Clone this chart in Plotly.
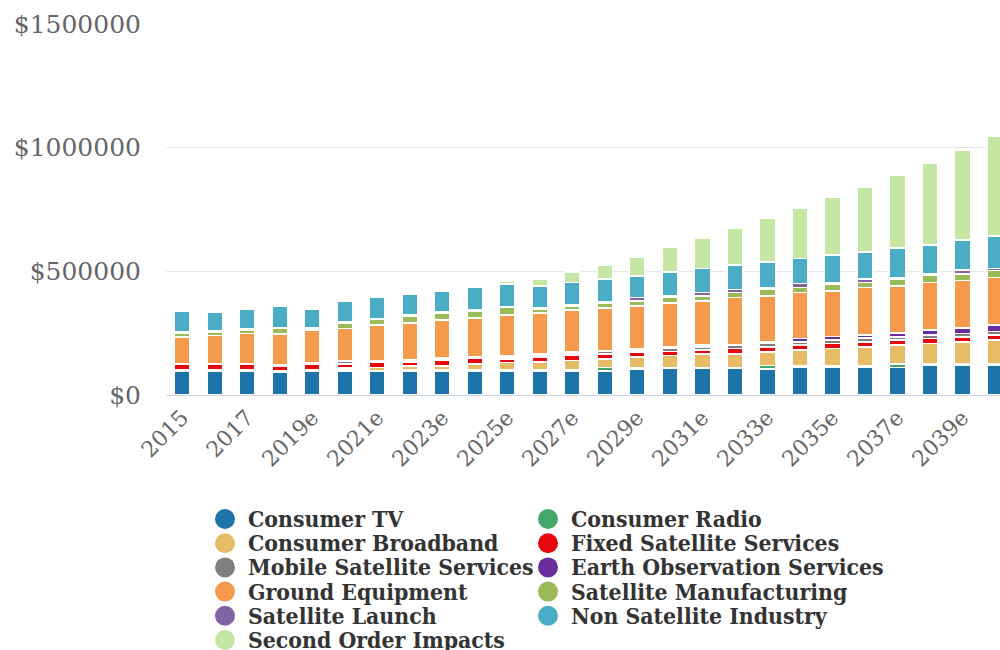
import plotly.graph_objects as go

years = ["2015", "2016", "2017", "2018"] + [f"{y}e" for y in range(2019, 2041)]
tick_labels = years[::2]
y_ticks = [0, 500000, 1000000, 1500000]
y_tick_text = ["$0", "$500000", "$1000000", "$1500000"]

consumer_tv = [98000, 98000, 98000, 90000, 98000, 98000, 98000, 98000, 98000, 98000,
               98000, 98000, 98000, 98000, 104700, 107300, 107300, 107300, 106000, 112600,
               112600, 112600, 111800, 119400, 119400, 119400]
consumer_radio = [2000, 2000, 2000, 3000, 2000, 3000, 2000, 3000, 3000, 3000,
                  5000, 5000, 5000, 13000, 6000, 2500, 3600, 3600, 13300, 6500,
                  5300, 5300, 12900, 5300, 5300, 5300]
consumer_broadband = [2000, 2000, 2000, 7000, 2000, 9000, 11500, 17000, 17000, 24100,
                      28300, 30300, 35800, 33700, 42000, 49900, 54800, 54800, 53800, 62200,
                      69500, 76800, 76800, 83500, 90100, 97000]
fixed_satellite = [22000, 22000, 22000, 16000, 23000, 15500, 20400, 15500, 21000, 22400,
                   14800, 21000, 22200, 21400, 20400, 15600, 15600, 21600, 21600, 20200,
                   20800, 20200, 20200, 20200, 20200, 20800]
mobile_satellite = [1500, 1500, 1500, 5000, 2500, 9000, 5000, 6000, 7000, 4000,
                    8000, 8000, 8000, 9000, 9000, 12900, 13300, 13000, 13700, 13300,
                    14100, 15000, 13300, 14100, 14100, 14100]
earth_observation = [1000, 1000, 1000, 2000, 1000, 4000, 1500, 4000, 5000, 2500,
                     3000, 4000, 4000, 4300, 4300, 6500, 8100, 3000, 5300, 13500,
                     13500, 13300, 15000, 20800, 21000, 26900]
ground_equipment = [109000, 115000, 122000, 124000, 131800, 130000, 144700, 146900, 152600, 157000,
                    166700, 165300, 170600, 172200, 172800, 177600, 178100, 190200, 186900, 185900,
                    185100, 191400, 191200, 192000, 192000, 192000]
satellite_manufacturing = [15000, 13500, 15000, 21600, 6500, 23000, 22200, 28300, 28500, 28300,
                           29000, 15000, 14300, 20800, 20800, 21800, 20200, 20200, 27100, 20200,
                           28300, 20800, 28300, 27900, 27500, 28100]
satellite_launch = [5000, 5000, 5500, 5000, 5000, 4500, 4800, 4000, 4800, 4500,
                    5500, 5300, 6000, 5300, 13500, 6500, 13500, 13300, 5300, 15600,
                    5300, 14100, 5300, 5300, 15600, 7500]
non_satellite = [82000, 76000, 76000, 83700, 75600, 83700, 84900, 84000, 83700, 90500,
                 90500, 89500, 90700, 91100, 88100, 95800, 97000, 97800, 105100, 101700,
                 110800, 109100, 118800, 118400, 121900, 132200]
second_order = [0, 0, 0, 0, 0, 0, 0, 0, 0, 0,
                12700, 27100, 43000, 56000, 76800, 102300, 122700, 149600, 177800, 204700,
                233200, 261500, 295100, 329000, 363800, 401800]

series = [
    ("Consumer TV", consumer_tv, "#1b73a8"),
    ("Consumer Radio", consumer_radio, "#43a66a"),
    ("Consumer Broadband", consumer_broadband, "#e6bc66"),
    ("Fixed Satellite Services", fixed_satellite, "#e6080c"),
    ("Mobile Satellite Services", mobile_satellite, "#7f7f7f"),
    ("Earth Observation Services", earth_observation, "#6b2d9e"),
    ("Ground Equipment", ground_equipment, "#f5994b"),
    ("Satellite Manufacturing", satellite_manufacturing, "#9bbb59"),
    ("Satellite Launch", satellite_launch, "#8064a2"),
    ("Non Satellite Industry", non_satellite, "#4bacc6"),
    ("Second Order Impacts", second_order, "#c6e6a3"),
]

# plot area in pixels (used to place the hand-built legend)
W, H = 1000, 650
ML, MR, MT, MB = 166, 0, 24, 255
PW, PH = W - ML - MR, H - MT - MB


def px_x(px):
    return (px - ML) / PW


def px_y(py):
    return (H - MB - py) / PH


fig = go.Figure()
for name, vals, color in series:
    fig.add_trace(go.Bar(
        x=years, y=vals, name=name, showlegend=False,
        marker=dict(color=color, line=dict(color="white", width=1.5)),
        hovertemplate="%{x}<br>" + name + ": $%{y}<extra></extra>",
    ))

# legend: two columns of circle + bold label
col_circle_x = [225, 548]
col_text_x = [246, 569]
row0_y, row_step, radius = 519, 24.2, 10
for i, (name, _, color) in enumerate(series):
    r, c = divmod(i, 2)
    cy = row0_y + r * row_step
    cx = col_circle_x[c]
    fig.add_shape(
        type="circle", xref="paper", yref="paper",
        x0=px_x(cx - radius), x1=px_x(cx + radius),
        y0=px_y(cy + radius), y1=px_y(cy - radius),
        fillcolor=color, line=dict(width=0), layer="above",
    )
    fig.add_annotation(
        xref="paper", yref="paper", x=px_x(col_text_x[c]), y=px_y(cy),
        xanchor="left", yanchor="middle", showarrow=False, text=name,
        font=dict(family="DejaVu Serif Condensed, DejaVu Serif", size=22.8,
                  color="#333333", weight="bold"),
    )

fig.update_layout(
    width=W, height=H,
    margin=dict(l=ML, r=MR, t=MT, b=MB),
    barmode="stack", bargap=0.51,
    plot_bgcolor="white", paper_bgcolor="white",
    font=dict(family="DejaVu Serif", color="#666666"),
    showlegend=False,
)
fig.update_xaxes(
    type="category", categoryorder="array", categoryarray=years,
    range=[-0.5, 25.16],
    tickmode="array", tickvals=tick_labels, ticktext=tick_labels,
    tickangle=-45, tickfont=dict(family="DejaVu Serif", size=22, color="#666666"),
    showline=True, linecolor="#ccd6eb", linewidth=1,
    showgrid=False, ticks="",
)
fig.update_yaxes(
    range=[0, 1500000], tickmode="array", tickvals=y_ticks, ticktext=y_tick_text,
    tickfont=dict(family="DejaVu Serif", size=25, color="#666666"),
    showgrid=True, gridcolor="#e6e6e6", gridwidth=1,
    zeroline=False, showline=False,
    ticks="outside", ticklen=19, tickcolor="rgba(0,0,0,0)",
)

fig.write_html("out.html")
